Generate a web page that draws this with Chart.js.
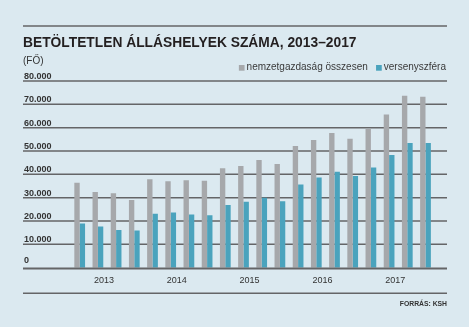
<!DOCTYPE html>
<html lang="hu">
<head>
<meta charset="UTF-8">
<title>Betöltetlen álláshelyek száma, 2013–2017</title>
<script src="https://cdn.jsdelivr.net/npm/chart.js"></script>
<style>
  html, body { margin: 0; padding: 0; background: #dbe9f0; }
  #wrap { width: 469px; height: 327px; }
</style>
</head>
<body>
<div id="wrap"><canvas id="allasChart" width="469" height="327"></canvas></div>
<script>
// negyedéves adatok, 2013 I. – 2017 IV. (fő)
const quarters = [
  '2013 I.', '2013 II.', '2013 III.', '2013 IV.',
  '2014 I.', '2014 II.', '2014 III.', '2014 IV.',
  '2015 I.', '2015 II.', '2015 III.', '2015 IV.',
  '2016 I.', '2016 II.', '2016 III.', '2016 IV.',
  '2017 I.', '2017 II.', '2017 III.', '2017 IV.'
];
const years = ['2013', '2014', '2015', '2016', '2017'];
const osszesen = [36400, 32400, 31900, 29000, 37900, 37000, 37500, 37300, 42600, 43600,
                  46200, 44400, 52200, 54700, 57700, 55300, 59700, 65600, 73700, 73200];
const versenyszfera = [18900, 17700, 16200, 15900, 23100, 23600, 22800, 22500, 26900, 28300,
                       30000, 28500, 35700, 38600, 41100, 39300, 42900, 48300, 53400, 53400];
const yTicks = [0, 10000, 20000, 30000, 40000, 50000, 60000, 70000, 80000];
const seriesNames = ['nemzetgazdaság összesen', 'versenyszféra'];

const BG = '#dbe9f0';
const GRAY = '#a6a8ab';
const TEAL = '#4aa3bd';
const LINE = '#646567';
const FONT = '"Liberation Sans", Arial, sans-serif';
const LEFT = 23, RIGHT = 447;

function fmt(v) {
  return v === 0 ? '0' : (v / 1000) + '.000';
}

function hline(ctx, y, w, color) {
  ctx.save();
  ctx.strokeStyle = color;
  ctx.lineWidth = w;
  ctx.beginPath();
  ctx.moveTo(LEFT, y);
  ctx.lineTo(RIGHT, y);
  ctx.stroke();
  ctx.restore();
}

const decor = {
  id: 'decor',
  beforeDraw(chart) {
    const ctx = chart.ctx;
    ctx.save();
    ctx.fillStyle = BG;
    ctx.fillRect(0, 0, chart.width, chart.height);

    // felső vonal, cím, mértékegység
    hline(ctx, 26, 1.5, LINE);
    ctx.fillStyle = '#231f20';
    ctx.font = 'bold 13.8px ' + FONT;
    ctx.textBaseline = 'alphabetic';
    ctx.fillText('BETÖLTETLEN ÁLLÁSHELYEK SZÁMA, 2013–2017', LEFT, 46.7);
    ctx.fillStyle = '#333';
    ctx.font = '10px ' + FONT;
    ctx.fillText('(FŐ)', LEFT, 64);

    // jelmagyarázat
    const colors = [GRAY, TEAL];
    ctx.font = '10px ' + FONT;
    ctx.textBaseline = 'middle';
    let x = 446;
    for (let i = seriesNames.length - 1; i >= 0; i--) {
      const w = ctx.measureText(seriesNames[i]).width;
      x -= w;
      ctx.fillStyle = '#3a3a3a';
      ctx.fillText(seriesNames[i], x, 67.5);
      x -= 2 + 5.7;
      ctx.fillStyle = colors[i];
      ctx.fillRect(x, 65, 5.7, 5.7);
      x -= 8.3;
    }

    // alsó vonal, forrás
    hline(ctx, 293.3, 1.5, LINE);
    ctx.fillStyle = '#333';
    ctx.font = 'bold 6.8px ' + FONT;
    ctx.textAlign = 'right';
    ctx.textBaseline = 'alphabetic';
    ctx.fillText('FORRÁS: KSH', 447, 306.3);
    ctx.restore();
  },
  beforeDatasetsDraw(chart) {
    const ctx = chart.ctx;
    const ys = chart.scales.y;
    ctx.save();
    ctx.font = 'bold 9px ' + FONT;
    ctx.fillStyle = '#333';
    ctx.textBaseline = 'alphabetic';
    yTicks.forEach(v => {
      const y = ys.getPixelForValue(v);
      if (v > 0) hline(ctx, y, 1.5, LINE);
      ctx.fillText(fmt(v), 24, v === 0 ? y - 4.4 : y - 2);
    });
    ctx.restore();
  },
  afterDatasetsDraw(chart) {
    const ctx = chart.ctx;
    const xs = chart.scales.x;
    const y0 = chart.scales.y.getPixelForValue(0);
    hline(ctx, y0 + 0.8, 2, LINE);
    ctx.save();
    ctx.font = '9px ' + FONT;
    ctx.fillStyle = '#333';
    ctx.textAlign = 'center';
    ctx.textBaseline = 'middle';
    years.forEach((yr, i) => {
      const x = (xs.getPixelForValue(4 * i + 1) + xs.getPixelForValue(4 * i + 2)) / 2 - 3;
      ctx.fillText(yr, x, y0 + 13.3);
    });
    ctx.restore();
  }
};

new Chart(document.getElementById('allasChart'), {
  type: 'bar',
  data: {
    labels: quarters,
    datasets: [
      { label: seriesNames[0], data: osszesen, backgroundColor: GRAY },
      { label: seriesNames[1], data: versenyszfera, backgroundColor: TEAL }
    ]
  },
  options: {
    responsive: false,
    animation: false,
    layout: { padding: { left: 70.6, right: 34.4, top: 81, bottom: 59.3 } },
    datasets: { bar: { categoryPercentage: 0.59, barPercentage: 1.0 } },
    scales: {
      x: { display: false },
      y: { display: false, min: 0, max: 80000 }
    },
    plugins: {
      legend: { display: false },
      tooltip: { enabled: false }
    }
  },
  plugins: [decor]
});
</script>
</body>
</html>
